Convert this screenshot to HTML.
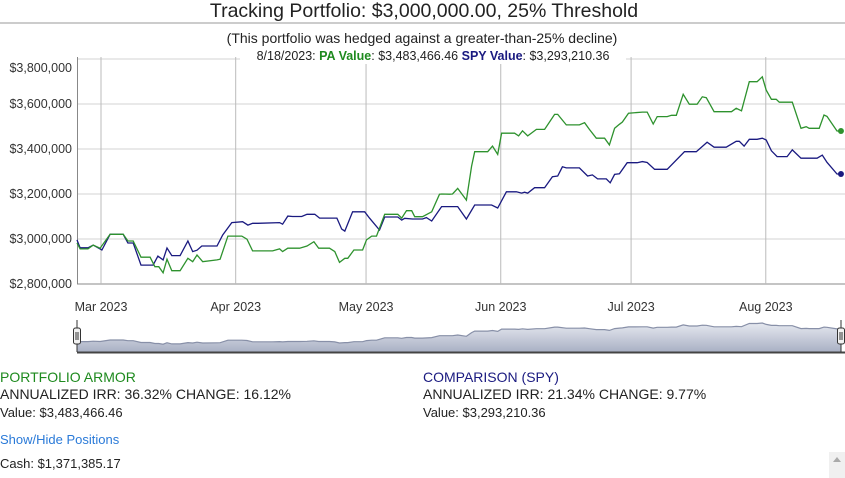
<!DOCTYPE html>
<html><head><meta charset="utf-8"><style>
body{margin:0;width:845px;height:478px;overflow:hidden;background:#fff;font-family:"Liberation Sans",sans-serif;}
.t{position:absolute;white-space:nowrap;font-size:13px;color:#222;}
</style></head><body>
<svg id="chart" width="845" height="478" style="position:absolute;left:0;top:0">
<text x="424" y="17" text-anchor="middle" font-size="19.5" fill="#222">Tracking Portfolio: $3,000,000.00, 25% Threshold</text>
<line x1="0" y1="23" x2="845" y2="23" stroke="#999"/>
<text x="422" y="43" text-anchor="middle" font-size="14" fill="#222">(This portfolio was hedged against a greater-than-25% decline)</text>
<g id="grid"></g>
<g id="series"></g>
<g id="nav"></g>
<rect x="240" y="48" width="386" height="16" fill="#fff"/>
<text x="433" y="60" text-anchor="middle" font-size="12.5" fill="#222">8/18/2023: <tspan fill="#1e8a1e" font-weight="bold">PA Value</tspan>: $3,483,466.46 <tspan fill="#1a1a80" font-weight="bold">SPY Value</tspan>: $3,293,210.36</text>
</svg>
<div class="t" style="left:0;top:369px;font-size:14px;color:#1e8a1e">PORTFOLIO ARMOR</div>
<div class="t" style="left:0;top:386px;font-size:14px">ANNUALIZED IRR: 36.32% CHANGE: 16.12%</div>
<div class="t" style="left:0;top:405px">Value: $3,483,466.46</div>
<div class="t" style="left:423px;top:369px;font-size:14px;color:#1a1a80">COMPARISON (SPY)</div>
<div class="t" style="left:423px;top:386px;font-size:14px">ANNUALIZED IRR: 21.34% CHANGE: 9.77%</div>
<div class="t" style="left:423px;top:405px">Value: $3,293,210.36</div>
<div class="t" style="left:0;top:432px;color:#2a7ad8">Show/Hide Positions</div>
<div class="t" style="left:0;top:456px">Cash: $1,371,385.17</div>
<div style="position:absolute;left:829px;top:452px;width:16px;height:26px;background:#f0f0f0"><div style="margin:5px 0 0 4px;width:0;height:0;border-left:4px solid transparent;border-right:4px solid transparent;border-bottom:5px solid #aaa"></div></div>
<script>
const paDays=[-5.7,-4.8,-3.0,-1.8,-0.2,2.1,5.1,6.2,7.4,9.2,11.3,12.4,13.3,14.3,15.2,16.3,18.2,20.0,21.1,22.1,23.4,26.7,27.4,29.2,32.4,33.6,34.9,39.5,41.1,41.8,43.0,45.7,47.4,49.0,50.1,52.6,53.8,54.9,56.1,56.8,58.2,60.2,61.1,62.3,63.4,65.3,68.3,69.2,70.3,71.5,72.2,74.0,76.1,77.9,78.4,80.2,80.9,82.1,84.1,85.3,86.0,89.0,90.1,91.3,92.2,95.2,96.1,97.0,98.2,100.2,102.1,104.4,105.1,107.1,110.1,111.3,112.4,114.0,115.9,117.0,118.2,119.3,120.0,121.4,124.6,125.7,127.1,128.0,130.3,131.3,132.4,134.0,135.4,137.2,138.4,139.3,141.1,145.1,146.2,147.4,149.2,151.0,152.2,153.1,154.3,155.4,156.1,159.1,161.1,162.3,163.0,165.3,166.4,167.1,169.4,170.3];
const paVals=[2.982,2.956,2.956,2.973,2.959,3.021,3.021,2.991,2.991,2.919,2.919,2.877,2.877,2.85,2.91,2.859,2.859,2.914,2.899,2.929,2.899,2.907,2.910,3.013,3.013,2.999,2.947,2.947,2.956,2.944,2.959,2.959,2.969,2.988,2.959,2.959,2.944,2.896,2.914,2.914,2.951,2.951,2.996,3.013,3.013,3.11,3.11,3.093,3.126,3.126,3.099,3.099,3.121,3.199,3.2,3.199,3.2,3.225,3.173,3.324,3.388,3.388,3.413,3.376,3.47,3.47,3.458,3.481,3.458,3.487,3.487,3.554,3.554,3.507,3.507,3.517,3.487,3.448,3.448,3.418,3.492,3.51,3.52,3.559,3.564,3.564,3.511,3.544,3.544,3.55,3.55,3.643,3.599,3.599,3.632,3.628,3.566,3.566,3.581,3.57,3.699,3.699,3.721,3.662,3.621,3.621,3.608,3.608,3.492,3.499,3.492,3.492,3.551,3.545,3.48,3.48];
const spyDays=[-5.7,-4.8,-3.0,-1.8,0.2,2.1,5.1,6.2,7.4,9.2,12.0,13.1,14.3,15.2,16.3,18.2,20.0,21.1,22.1,23.2,25.1,26.7,28.0,30.1,32.6,33.8,34.9,36.1,41.1,41.8,43.0,44.1,46.2,47.4,49.2,50.3,54.3,55.4,56.1,57.9,60.7,61.8,64.1,65.3,68.3,69.2,69.9,71.7,74.0,74.9,76.1,78.4,82.1,84.1,86.0,89.9,91.3,93.3,95.6,96.8,97.5,98.2,99.8,102.1,103.9,105.1,106.2,107.1,110.1,112.0,113.1,114.3,116.3,117.2,118.2,119.3,121.1,123.4,124.6,125.7,127.4,130.3,134.3,137.0,139.5,141.1,143.9,146.2,146.9,148.0,149.2,151.0,152.2,153.1,154.3,155.6,157.9,159.1,161.1,164.8,166.0,167.1,169.4,170.3];
const spyVals=[2.996,2.961,2.961,2.973,2.951,3.021,3.021,2.982,2.982,2.884,2.884,2.924,2.907,2.96,2.926,2.926,2.991,2.944,2.95,2.969,2.969,2.969,3.018,3.073,3.077,3.062,3.07,3.07,3.073,3.066,3.102,3.1,3.1,3.11,3.11,3.093,3.093,3.044,3.035,3.121,3.121,3.093,3.04,3.098,3.098,3.084,3.092,3.089,3.089,3.095,3.08,3.144,3.144,3.089,3.151,3.151,3.138,3.21,3.21,3.204,3.208,3.204,3.228,3.228,3.277,3.28,3.321,3.316,3.316,3.28,3.285,3.267,3.267,3.25,3.287,3.29,3.339,3.339,3.344,3.34,3.31,3.31,3.388,3.388,3.43,3.408,3.408,3.434,3.434,3.413,3.443,3.443,3.448,3.44,3.392,3.366,3.366,3.396,3.359,3.359,3.373,3.341,3.289,3.289];
const yTicks=[2.8,3.0,3.2,3.4,3.6,3.8];
const yTickLabels=["$2,800,000","$3,000,000","$3,200,000","$3,400,000","$3,600,000","$3,800,000"];
const monthDays=[0,31,61,92,122,153];
const monthLabels=["Mar 2023","Apr 2023","May 2023","Jun 2023","Jul 2023","Aug 2023"];

const NS="http://www.w3.org/2000/svg";
const X=d=>101+d*4.345;
const Y=v=>239-(v-3.0)*225;
const NY=v=>341-(v-2.98)*24.3;
function mk(tag,attrs,parent){const e=document.createElementNS(NS,tag);for(const k in attrs)e.setAttribute(k,attrs[k]);parent.appendChild(e);return e;}
const grid=document.getElementById('grid'),ser=document.getElementById('series'),nav=document.getElementById('nav');
yTicks.forEach((v,i)=>{
  const l=mk('line',{x1:77,x2:845,y1:Y(v),y2:Y(v),stroke:i==0?'#888':'#d3d3d3'},grid);
  
  
  const t=mk('text',{x:72,y:Math.max(Y(v)+4,72),'text-anchor':'end','font-size':12.5,fill:'#333'},grid);
  t.textContent=yTickLabels[i];
  
  
});
monthDays.forEach((d,i)=>{
  const l=mk('line',{x1:X(d),x2:X(d),y1:Y(3.8)-2,y2:Y(2.8),stroke:'#bbb'},grid);
  
  
  const t=mk('text',{x:X(d),y:311,'text-anchor':'middle','font-size':12.5,fill:'#333'},grid);
  t.textContent=monthLabels[i];
  
  
});
const ax=mk('line',{x1:77.5,x2:77.5,y1:Y(3.8)-2,y2:Y(2.8),stroke:'#888'},grid);


function path(days,vals,f){return days.map((d,i)=>(i?'L':'M')+Math.max(X(d),77).toFixed(1)+','+f(vals[i]).toFixed(1)).join('');}
const sp=mk('path',{d:path(spyDays,spyVals,Y),fill:'none',stroke:'#1a1a80','stroke-width':1.3},ser);


const pa=mk('path',{d:path(paDays,paVals,Y),fill:'none',stroke:'#2e922e','stroke-width':1.3},ser);


const d1=mk('circle',{cx:X(paDays[paDays.length-1]),cy:Y(paVals[paVals.length-1]),r:3,fill:'#2e922e'},ser);


const d2=mk('circle',{cx:X(spyDays[spyDays.length-1]),cy:Y(spyVals[spyVals.length-1]),r:3,fill:'#1a1a80'},ser);


const defs=mk('defs',{},nav);
const lg=mk('linearGradient',{id:'ng',x1:0,y1:0,x2:0,y2:1},defs);
mk('stop',{offset:0,'stop-color':'#e6e9f0'},lg);mk('stop',{offset:1,'stop-color':'#a9b0c4'},lg);
const nd=path(paDays,paVals,NY);
const na=mk('path',{d:nd+'L'+X(paDays[paDays.length-1]).toFixed(1)+',352L77,352Z',fill:'url(#ng)',stroke:'none'},nav);


const nl=mk('path',{d:nd,fill:'none',stroke:'#8890a8','stroke-width':1.2},nav);


const nb=mk('line',{x1:77,x2:845,y1:352.5,y2:352.5,stroke:'#444','stroke-width':2},nav);


[77,841].forEach((hx,i)=>{
  const g=mk('g',{},nav);
  
  
  mk('line',{x1:hx,x2:hx,y1:320,y2:352,stroke:'#333'},g);
  mk('rect',{x:hx-3.5,y:328,width:7,height:16,rx:2,fill:'#f2f2f2',stroke:'#333'},g);
  mk('line',{x1:hx-1,x2:hx-1,y1:332,y2:340,stroke:'#333'},g);
  mk('line',{x1:hx+1,x2:hx+1,y1:332,y2:340,stroke:'#333'},g);
});
</script>
</body></html>
